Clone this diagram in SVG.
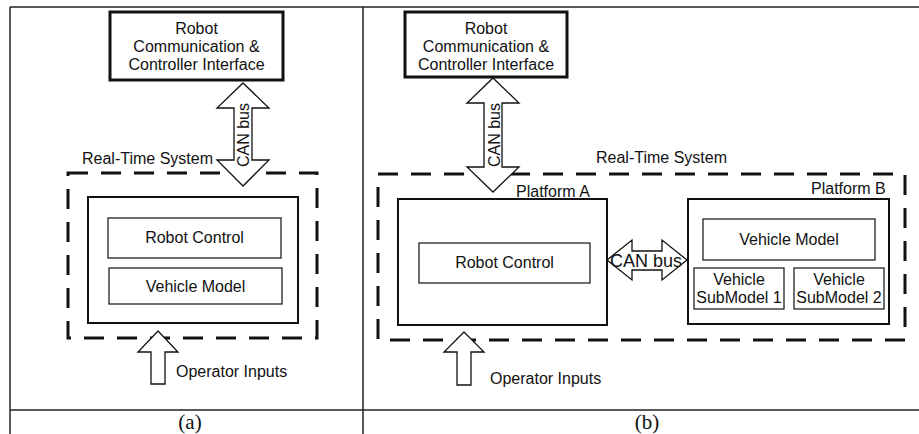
<svg xmlns="http://www.w3.org/2000/svg" width="919" height="434" viewBox="0 0 919 434">
<style>
text{font-family:"Liberation Sans",Arial,sans-serif;font-size:16px;fill:#111}
.c{text-anchor:middle}
.cap{font-family:"Liberation Serif","Times New Roman",serif;font-size:21px;text-anchor:middle}
.frame{stroke:#222;stroke-width:1.5;fill:none}
.thick{fill:#fff;stroke:#111;stroke-width:3}
.plat{fill:#fff;stroke:#111;stroke-width:2}
.inner{fill:#fff;stroke:#222;stroke-width:1.3}
.dash{fill:none;stroke:#111;stroke-width:3;stroke-dasharray:20 13}
.arrow{fill:#fff;stroke:#111;stroke-width:1.3;stroke-linejoin:miter}
</style>
<rect width="919" height="434" fill="#fff"/>
<g id="frame">
<line class="frame" x1="10" y1="7" x2="919" y2="7"/>
<line class="frame" x1="10" y1="7" x2="10" y2="434"/>
<line class="frame" x1="363" y1="7" x2="363" y2="434"/>
<line class="frame" x1="10" y1="410" x2="919" y2="410"/>
<text class="cap" x="190" y="429">(a)</text>
<text class="cap" x="647" y="429">(b)</text>
</g>
<!-- Panel (a) -->
<g id="a-rts">
<rect class="dash" x="68" y="173" width="249" height="165"/>
<text x="82" y="164">Real-Time System</text>
</g>
<g id="a-comm">
<rect class="thick" x="110" y="12" width="173" height="68"/>
<text class="c" x="196.5" y="34">Robot</text>
<text class="c" x="196.5" y="52">Communication &amp;</text>
<text class="c" x="196.5" y="70">Controller Interface</text>
</g>
<g id="a-platform">
<rect class="plat" x="88" y="197" width="210" height="126"/>
</g>
<g id="a-robot-control">
<rect class="inner" x="108" y="218" width="173" height="40"/>
<text class="c" x="194.5" y="243">Robot Control</text>
</g>
<g id="a-vehicle-model">
<rect class="inner" x="109" y="268" width="173" height="36"/>
<text class="c" x="195.5" y="292">Vehicle Model</text>
</g>
<!-- Panel (b) -->
<g id="b-rts">
<rect class="dash" x="378" y="174" width="527" height="166"/>
<text x="596" y="163">Real-Time System</text>
</g>
<g id="b-comm">
<rect class="thick" x="405" y="12" width="162" height="65"/>
<text class="c" x="486" y="34">Robot</text>
<text class="c" x="486" y="52">Communication &amp;</text>
<text class="c" x="486" y="70">Controller Interface</text>
</g>
<g id="b-platform-a">
<rect class="plat" x="398" y="199" width="209" height="126"/>
<text x="516" y="197">Platform A</text>
</g>
<g id="b-robot-control">
<rect class="inner" x="419" y="243" width="171" height="40"/>
<text class="c" x="504.5" y="268">Robot Control</text>
</g>
<g id="b-platform-b">
<rect class="plat" x="688" y="199" width="201" height="125"/>
<text x="811" y="194">Platform B</text>
</g>
<g id="b-vehicle-model">
<rect class="inner" x="703" y="219" width="172" height="41"/>
<text class="c" x="789" y="245">Vehicle Model</text>
</g>
<g id="b-sub1">
<rect class="inner" x="694" y="268" width="90" height="41"/>
<text class="c" x="739" y="285">Vehicle</text>
<text class="c" x="739" y="303">SubModel 1</text>
</g>
<g id="b-sub2">
<rect class="inner" x="794" y="268" width="90" height="41"/>
<text class="c" x="839" y="285">Vehicle</text>
<text class="c" x="839" y="303">SubModel 2</text>
</g>
<g id="connectors">
<polygon class="arrow" points="243,83 269,108 252,108 252,160 269,160 243,186 217,160 234,160 234,108 217,108"/>
<text class="c" transform="translate(249,135) rotate(-90)">CAN bus</text>
<polygon class="arrow" points="158,331 178,352 165,352 165,384 151,384 151,352 138,352"/>
<text x="176" y="377">Operator Inputs</text>
<polygon class="arrow" points="493,78 519,103 502,103 502,167 519,167 493,192 467,167 484,167 484,103 467,103"/>
<text class="c" transform="translate(500,135) rotate(-90)">CAN bus</text>
<polygon class="arrow" points="607,260 632,240 632,251 662,251 662,240 687,260 662,280 662,270 632,270 632,280"/>
<text class="c" x="646" y="267" style="font-size:18px">CAN bus</text>
<polygon class="arrow" points="464,332 484,352 471,352 471,385 457,385 457,352 444,352"/>
<text x="490" y="384">Operator Inputs</text>
</g>
</svg>
